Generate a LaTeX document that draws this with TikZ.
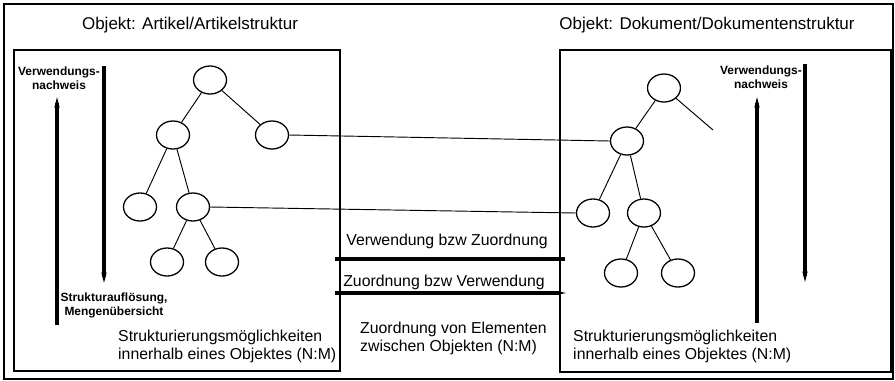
\documentclass[tikz,border=0pt]{standalone}
\usepackage{fontspec}
\setmainfont{Liberation Sans}
\usetikzlibrary{shapes.geometric, arrows.meta, positioning}

\begin{document}
\begin{tikzpicture}[x=0.03cm, y=-0.03cm]
    \tikzstyle{elem} = [draw, ellipse, line width=1.1pt, minimum width=0.99cm, minimum height=0.84cm, inner sep=0pt];
    \tikzstyle{frame} = [draw, line width=0.9pt];
    \tikzstyle{link} = [line width=0.8pt];
    \tikzstyle{flow} = [line width=3pt, -{Stealth[length=9pt, width=4.5pt]}];
    \tikzstyle{bar} = [line width=3pt];
    \tikzstyle{heading} = [font=\fontsize{14.5}{17}\selectfont, inner sep=0pt];
    \tikzstyle{caption} = [font=\fontsize{13.5}{15.5}\selectfont, align=left, inner sep=0pt];
    \tikzstyle{small} = [font=\bfseries\fontsize{10.2}{12}\selectfont, align=center, inner sep=0pt];

    \useasboundingbox (0,0) rectangle (895,380);
    \draw[frame] (4,4) rectangle (893,379);

    % the two objects
    \draw[frame] (14,50) rectangle (340,371);
    \draw[frame] (560,50) rectangle (891,372);
    \node[heading] (tA) at (190,25) {Objekt: Artikel/Artikelstruktur};
    \node[heading] (tB) at (707,25) {Objekt: Dokument/Dokumentenstruktur};

    % article tree
    \node[elem] (a1) at (210,80) {};
    \node[elem] (a2) at (173,135) {};
    \node[elem] (a3) at (272,135) {};
    \node[elem] (a4) at (140,207) {};
    \node[elem] (a5) at (193,207) {};
    \node[elem] (a6) at (167,262) {};
    \node[elem] (a7) at (222,262) {};
    \draw[link] (a1) -- (a2);
    \draw[link] (a1) -- (a3);
    \draw[link] (a2) -- (a4);
    \draw[link] (a2) -- (a5);
    \draw[link] (a5) -- (a6);
    \draw[link] (a5) -- (a7);

    % document tree
    \node[elem] (b1) at (664,88) {};
    \node[elem] (b2) at (627,141) {};
    \node[elem] (b4) at (593,213) {};
    \node[elem] (b5) at (644,213) {};
    \node[elem] (b6) at (621,273) {};
    \node[elem] (b7) at (678,273) {};
    \coordinate (b3) at (713,130);
    \draw[link] (b1) -- (b2);
    \draw[link] (b1) -- (b3);
    \draw[link] (b2) -- (b4);
    \draw[link] (b2) -- (b5);
    \draw[link] (b5) -- (b6);
    \draw[link] (b5) -- (b7);

    % links between the objects
    \draw[link] (a3.east) -- (b2.west);
    \draw[link] (a5.east) -- (b4.west);

    % directions inside the article
    \coordinate (aU0) at (57,325);
    \coordinate (aU1) at (57,97);
    \coordinate (aD0) at (104,66);
    \coordinate (aD1) at (104,283);
    \draw[flow] (aU0) -- (aU1);
    \draw[flow] (aD0) -- (aD1);
    \node[small] (aUse) at (59,78) {Verwendungs-\\nachweis};
    \node[small] (aRes) at (114,305) {Strukturauflösung,\\Mengenübersicht};

    % directions inside the document
    \coordinate (bU0) at (757,323);
    \coordinate (bU1) at (757,97);
    \coordinate (bD0) at (805,64);
    \coordinate (bD1) at (805,282);
    \draw[flow] (bU0) -- (bU1);
    \draw[flow] (bD0) -- (bD1);
    \node[small] (bUse) at (761,77) {Verwendungs-\\nachweis};

    % between the objects
    \coordinate (m1a) at (335,259);
    \coordinate (m1b) at (565,259);
    \coordinate (m2a) at (335,293);
    \coordinate (m2b) at (566,293);
    \draw[bar] (m1a) -- (m1b);
    \draw[bar, -{Stealth[length=7pt, width=3pt]}] (m2a) -- (m2b);
    \node[caption] (mUse) at (447,241) {Verwendung bzw Zuordnung};
    \node[caption] (mMap) at (444,282) {Zuordnung bzw Verwendung};
    \node[caption, anchor=north west] (mText) at (360,322) {Zuordnung von Elementen\\zwischen Objekten (N:M)};

    \node[caption, anchor=north west] (aText) at (118,330) {Strukturierungsmöglichkeiten\\innerhalb eines Objektes (N:M)};
    \node[caption, anchor=north west] (bText) at (573,330) {Strukturierungsmöglichkeiten\\innerhalb eines Objektes (N:M)};
\end{tikzpicture}
\end{document}
